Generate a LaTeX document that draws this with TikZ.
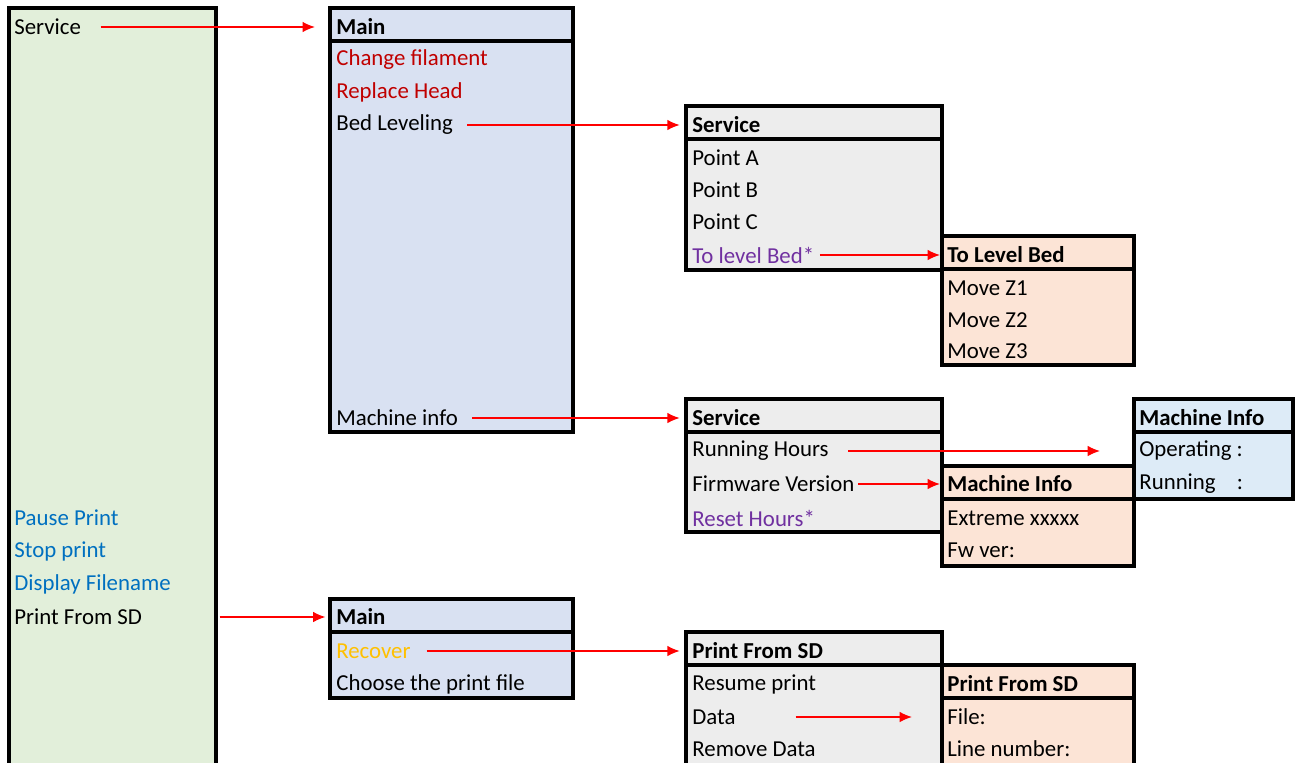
\documentclass[tikz,border=0pt]{standalone}
\usepackage{fontspec}
\setmainfont{Carlito}
\usetikzlibrary{arrows.meta}

\definecolor{greenbg}{HTML}{E2EFDA}
\definecolor{mainbg}{HTML}{D9E1F2}
\definecolor{greybg}{HTML}{EDEDED}
\definecolor{peachbg}{HTML}{FCE4D6}
\definecolor{bluebg}{HTML}{DDEBF7}
\definecolor{itemred}{HTML}{C00000}
\definecolor{itempurple}{HTML}{7030A0}
\definecolor{itemblue}{HTML}{0070C0}
\definecolor{itemorange}{HTML}{FFC000}

\begin{document}
\begin{tikzpicture}[>={Latex[length=7pt,width=6pt]}, x=0.02cm, y=-0.02cm,
    box/.style={draw, line width=2.1pt},
    item/.style={anchor=west, inner sep=0pt, font=\fontsize{13}{15}\selectfont},
    head/.style={item, font=\fontsize{13}{15}\selectfont\bfseries},
    link/.style={->, red, line width=0.8pt}]

                \clip (0,0) rectangle (1300,762);

                % Left panel
                \draw [box, fill=greenbg] (9,8) rectangle (216,790);
                \node[item] (lsvc) at (14,27) {Service};
                \node[item, text=itemblue] (lpause) at (14,518) {Pause Print};
                \node[item, text=itemblue] (lstop) at (14,551) {Stop print};
                \node[item, text=itemblue] (ldisp) at (14,584) {Display Filename};
                \node[item] (lsd) at (14,617) {Print From SD};

                % Main menu
                \draw [box, fill=mainbg] (330,8) rectangle (573,432);
                \draw [box] (330,41) -- (573,41);
                \node[head] (mainhd) at (336,27) {Main};
                \node[item, text=itemred] (mchange) at (336,60) {Change filament};
                \node[item, text=itemred] (mreplace) at (336,92) {Replace Head};
                \node[item] (mbed) at (336,125) {Bed Leveling};
                \node[item] (minfo) at (336,418) {Machine info};

                % Service - bed leveling
                \draw [box, fill=greybg] (686,106) rectangle (942,270);
                \draw [box] (686,139) -- (942,139);
                \node[head] (bedhd) at (692,125) {Service};
                \node[item] (bpa) at (692,158) {Point A};
                \node[item] (bpb) at (692,190) {Point B};
                \node[item] (bpc) at (692,222) {Point C};
                \node[item, text=itempurple] (blevel) at (692,255) {To level Bed*};

                % To level bed
                \draw [box, fill=peachbg] (942,236) rectangle (1134,365);
                \draw [box] (942,269) -- (1134,269);
                \node[head] (levelhd) at (947,255) {To Level Bed};
                \node[item] (lz1) at (947,288) {Move Z1};
                \node[item] (lz2) at (947,320) {Move Z2};
                \node[item] (lz3) at (947,351) {Move Z3};

                % Service - machine info
                \draw [box, fill=greybg] (686,399) rectangle (942,532);
                \draw [box] (686,432) -- (942,432);
                \node[head] (infohd) at (692,418) {Service};
                \node[item] (irun) at (692,451) {Running Hours};
                \node[item] (ifw) at (692,484) {Firmware Version};
                \node[item, text=itempurple] (ireset) at (692,518) {Reset Hours*};

                % Machine info - hours
                \draw [box, fill=bluebg] (1134,399) rectangle (1293,499);
                \draw [box] (1134,432) -- (1293,432);
                \node[head] (hourshd) at (1139,418) {Machine Info};
                \node[item] (hop) at (1139,451) {Operating :};
                \node[item] (hrun) at (1139,484) {Running\hspace{12pt}:};
                \coordinate (hourspt) at (1100,451);

                % Machine info - firmware
                \draw [box, fill=peachbg] (942,466) rectangle (1134,566);
                \draw [box] (942,499) -- (1134,499);
                \node[head] (fwhd) at (947,484) {Machine Info};
                \node[item] (fwext) at (947,518) {Extreme xxxxx};
                \node[item] (fwver) at (947,550) {Fw ver:};

                % Main - print from SD
                \draw [box, fill=mainbg] (330,599) rectangle (573,698);
                \draw [box] (330,632) -- (573,632);
                \node[head] (sdhd) at (336,617) {Main};
                \node[item, text=itemorange] (sdrec) at (336,651) {Recover};
                \node[item] (sdchoose) at (336,684) {Choose the print file};

                % Print from SD - recover
                \draw [box, fill=greybg] (686,632) rectangle (942,790);
                \draw [box] (686,665) -- (942,665);
                \node[head] (rechd) at (692,651) {Print From SD};
                \node[item] (rresume) at (692,684) {Resume print};
                \node[item] (rdata) at (692,717) {Data};
                \node[item] (rremove) at (692,749) {Remove Data};
                \coordinate (datapt) at (912,717);

                % Print from SD - data
                \draw [box, fill=peachbg] (942,665) rectangle (1134,790);
                \draw [box] (942,698) -- (1134,698);
                \node[head] (datahd) at (947,684) {Print From SD};
                \node[item] (dfile) at (947,717) {File:};
                \node[item] (dline) at (947,749) {Line number:};

                % Links
                \draw [link] ([xshift=11pt]lsvc.east) -- ([xshift=-12pt]mainhd.west);
                \draw [link] ([xshift=8pt]mbed.east) -- ([xshift=-7pt]bedhd.west);
                \draw [link] ([xshift=3pt]blevel.east) -- ([xshift=-4pt]levelhd.west);
                \draw [link] ([xshift=8pt]minfo.east) -- ([xshift=-7pt]infohd.west);
                \draw [link] ([xshift=11pt]irun.east) -- (hourspt);
                \draw [link] ([xshift=2pt]ifw.east) -- ([xshift=-4pt]fwhd.west);
                \draw [link] ([xshift=44pt]lsd.east) -- ([xshift=-6pt]sdhd.west);
                \draw [link] ([xshift=9pt]sdrec.east) -- ([xshift=-7pt]rechd.west);
                \draw [link] ([xshift=34pt]rdata.east) -- (datapt);

\end{tikzpicture}
\end{document}
